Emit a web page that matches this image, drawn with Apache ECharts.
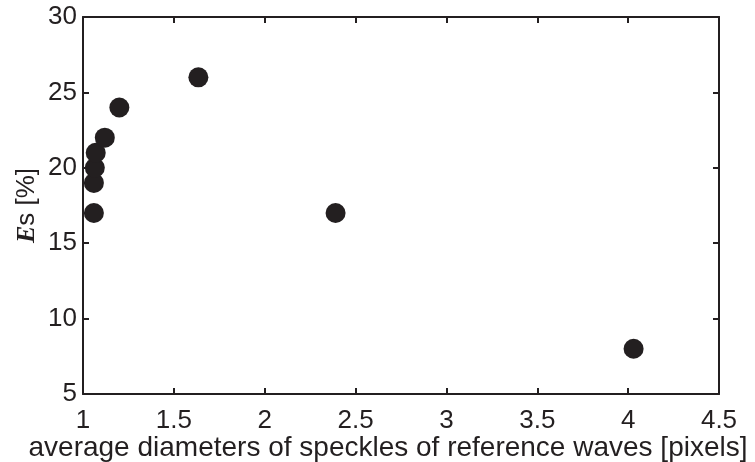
<!DOCTYPE html>
<html>
<head>
<meta charset="utf-8">
<script src="https://cdn.jsdelivr.net/npm/echarts@6/dist/echarts.min.js"></script>
<style>html,body{margin:0;padding:0;background:#fff}#c{width:755px;height:462px}</style>
</head>
<body>
<div id="c"></div>
<script>
var xValues = [1.06, 1.06, 1.065, 1.07, 1.12, 1.20, 1.635, 2.39, 4.03];
var yValues = [17, 19, 20, 21, 22, 24, 26, 17, 8];
var xTicks = [1, 1.5, 2, 2.5, 3, 3.5, 4, 4.5];
var yTicks = [5, 10, 15, 20, 25, 30];
var xTitle = 'average diameters of speckles of reference waves [pixels]';

var ink = '#231f20';
var font = 'Liberation Sans, Arial, Helvetica, sans-serif';
var pts = xValues.map(function (x, i) { return [x, yValues[i]]; });

var chart = echarts.init(document.getElementById('c'), null, {renderer: 'canvas'});
var axisCommon = {
  axisLine: {show: true, onZero: false, lineStyle: {color: ink, width: 2}},
  axisTick: {show: true, inside: true, length: 6, lineStyle: {color: ink, width: 2}},
  splitLine: {show: false}
};
chart.setOption({
  animation: false,
  backgroundColor: '#fff',
  grid: {left: 83, right: 36, top: 17, bottom: 68, containLabel: false, outerBoundsMode: 'none'},
  xAxis: [
    Object.assign({}, axisCommon, {
      type: 'value', position: 'bottom', min: xTicks[0], max: xTicks[xTicks.length - 1], interval: 0.5,
      axisLabel: {color: ink, fontSize: 26, fontFamily: font, margin: 14,
        formatter: function (v) { return String(v); }},
      name: xTitle, nameLocation: 'middle', nameGap: 54, nameMoveOverlap: false,
      nameTextStyle: {color: ink, fontSize: 28, fontFamily: font, verticalAlign: 'middle', padding: [0, 26, 0, 0]}
    }),
    Object.assign({}, axisCommon, {
      type: 'value', position: 'top', min: xTicks[0], max: xTicks[xTicks.length - 1], interval: 0.5,
      axisLabel: {show: false}
    })
  ],
  yAxis: [
    Object.assign({}, axisCommon, {
      type: 'value', position: 'left', min: yTicks[0], max: yTicks[yTicks.length - 1], interval: 5,
      axisLabel: {color: ink, fontSize: 26, fontFamily: font, margin: 6},
      name: '{i|E}s [%]', nameLocation: 'middle', nameGap: 56, nameRotate: 90, nameMoveOverlap: false,
      nameTextStyle: {color: ink, fontSize: 26, fontFamily: font, verticalAlign: 'middle',
        rich: {i: {fontFamily: 'Liberation Serif, Times New Roman, serif', fontStyle: 'italic', fontWeight: 'bold', fontSize: 26, color: ink}}}
    }),
    Object.assign({}, axisCommon, {
      type: 'value', position: 'right', min: yTicks[0], max: yTicks[yTicks.length - 1], interval: 5,
      axisLabel: {show: false}
    })
  ],
  series: [{
    type: 'scatter',
    xAxisIndex: 0, yAxisIndex: 0,
    data: pts,
    symbol: 'circle',
    symbolSize: 20,
    itemStyle: {color: ink, opacity: 1}
  }]
});
</script>
</body>
</html>
